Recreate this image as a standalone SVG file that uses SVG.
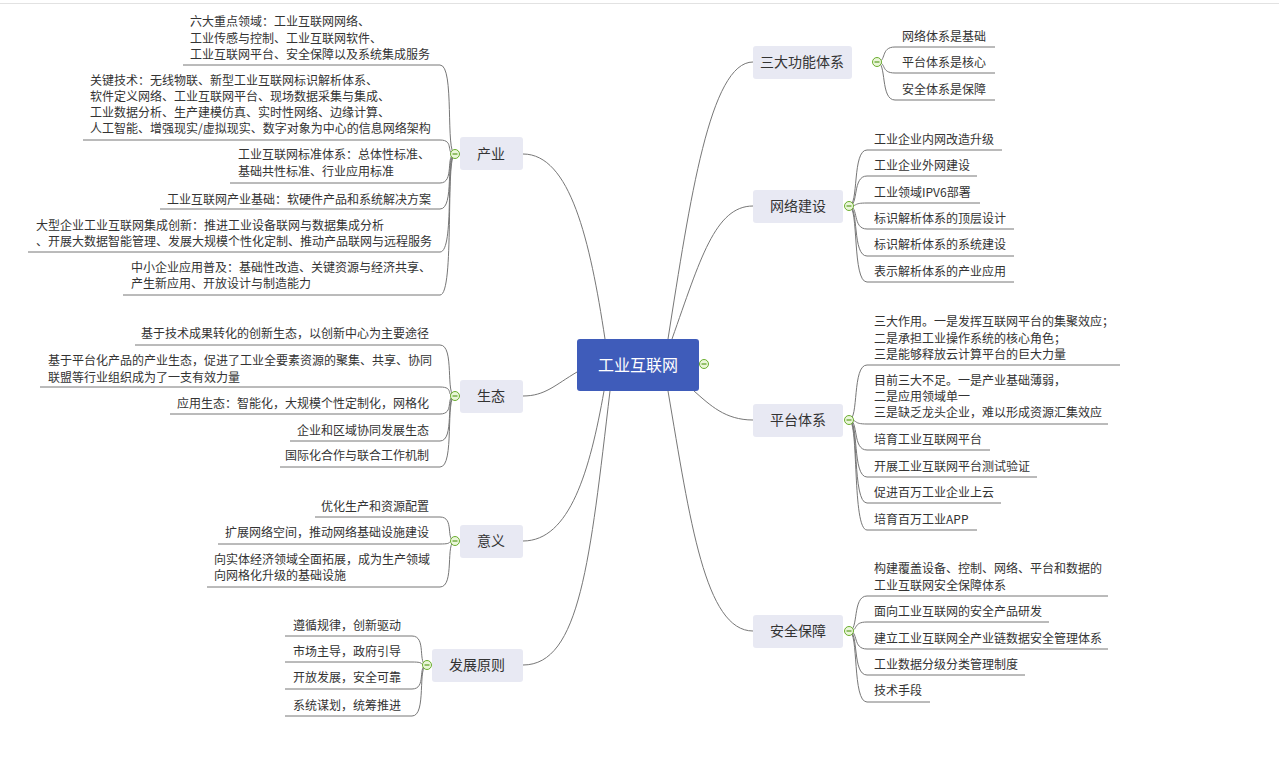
<svg xmlns="http://www.w3.org/2000/svg" width="1279" height="784" viewBox="0 0 1279 784">
<defs>
<style>
.t{font-family:"Noto Sans CJK SC","Liberation Sans",sans-serif;font-size:12px;fill:#333}
.r{text-anchor:end}
.b{font-family:"Noto Sans CJK SC","Liberation Sans",sans-serif;font-size:14px;fill:#333;text-anchor:middle}
.bx{fill:#e8e9f3}
.c{fill:none;stroke:#777;stroke-width:1}
.ic{fill:#eaf6d9;stroke:#6aae2e;stroke-width:1}
.im{stroke:#5a9e22;stroke-width:1.2}
</style>
<g id="ico"><circle class="ic" r="4.5"/><line class="im" x1="-2.5" x2="2.5" y1="0" y2="0"/></g>
</defs>
<rect width="1279" height="784" fill="#fff"/>
<line x1="0" y1="3.5" x2="1279" y2="3.5" stroke="#e2e2e2"/>
<g id="connectors">
<path class="c" d="M605,339 C590,240 570,154 523,154"/>
<path class="c" d="M577,372 C555,385 545,396 523,396"/>
<path class="c" d="M604,391 C590,470 570,541 523,541"/>
<path class="c" d="M610,391 C590,560 580,665 523,665"/>
<path class="c" d="M668,339 C690,200 710,62 753,62"/>
<path class="c" d="M672,339 C700,260 715,206 753,206"/>
<path class="c" d="M694,391 C710,405 725,420 753,420"/>
<path class="c" d="M668,391 C690,520 705,631 753,631"/>
<!-- 产业 -->
<path class="c" d="M455,154 C445,154 455,65 440,65 H183"/>
<path class="c" d="M455,154 C445,154 455,140 440,140 H83"/>
<path class="c" d="M455,154 C445,154 455,183 440,183 H230"/>
<path class="c" d="M455,154 C445,154 455,209 440,209 H160"/>
<path class="c" d="M455,154 C445,154 455,252 440,252 H28"/>
<path class="c" d="M455,154 C445,154 455,295 440,295 H123"/>
<!-- 生态 -->
<path class="c" d="M455,396 C445,396 455,345 440,345 H135"/>
<path class="c" d="M455,396 C445,396 455,387 440,387 H40"/>
<path class="c" d="M455,396 C445,396 455,414 440,414 H170"/>
<path class="c" d="M455,396 C445,396 455,441 440,441 H290"/>
<path class="c" d="M455,396 C445,396 455,467 440,467 H280"/>
<!-- 意义 -->
<path class="c" d="M455,541 C445,541 455,517 440,517 H315"/>
<path class="c" d="M455,541 C445,541 455,544 440,544 H218"/>
<path class="c" d="M455,541 C445,541 455,587 440,587 H207"/>
<!-- 发展原则 -->
<path class="c" d="M427,665 C417,665 427,636 412,636 H285"/>
<path class="c" d="M427,665 C417,665 427,662 412,662 H285"/>
<path class="c" d="M427,665 C417,665 427,689 412,689 H285"/>
<path class="c" d="M427,665 C417,665 427,716 412,716 H285"/>
<!-- 三大功能体系 -->
<path class="c" d="M877,62 C887,62 880,47 895,47 H995"/>
<path class="c" d="M877,62 C887,62 880,73 895,73 H995"/>
<path class="c" d="M877,62 C887,62 880,100 895,100 H995"/>
<!-- 网络建设 -->
<path class="c" d="M849,206 C859,206 852,150 867,150 H1002"/>
<path class="c" d="M849,206 C859,206 852,176 867,176 H977"/>
<path class="c" d="M849,206 C859,206 852,203 867,203 H980"/>
<path class="c" d="M849,206 C859,206 852,229 867,229 H1014"/>
<path class="c" d="M849,206 C859,206 852,256 867,256 H1014"/>
<path class="c" d="M849,206 C859,206 852,282 867,282 H1014"/>
<!-- 平台体系 -->
<path class="c" d="M849,420 C859,420 852,365 867,365 H1120"/>
<path class="c" d="M849,420 C859,420 852,424 867,424 H1108"/>
<path class="c" d="M849,420 C859,420 852,450 867,450 H990"/>
<path class="c" d="M849,420 C859,420 852,477 867,477 H1037"/>
<path class="c" d="M849,420 C859,420 852,503 867,503 H1001"/>
<path class="c" d="M849,420 C859,420 852,530 867,530 H977"/>
<!-- 安全保障 -->
<path class="c" d="M849,631 C859,631 852,596 867,596 H1108"/>
<path class="c" d="M849,631 C859,631 852,622 867,622 H1049"/>
<path class="c" d="M849,631 C859,631 852,649 867,649 H1108"/>
<path class="c" d="M849,631 C859,631 852,675 867,675 H1025"/>
<path class="c" d="M849,631 C859,631 852,702 867,702 H930"/>
</g>
<g id="center">
<rect x="577" y="339" width="122" height="52" rx="3" fill="#3f5cba"/>
<text x="638" y="371" font-family="Noto Sans CJK SC,sans-serif" font-size="16" fill="#fff" text-anchor="middle">工业互联网</text>
<use href="#ico" x="704" y="364"/>
</g>
<g id="n-chanye">
<rect class="bx" x="460" y="137" width="63" height="33" rx="3"/><text class="b" x="491" y="159">产业</text><use href="#ico" x="455" y="154"/>
<text class="t" x="190" y="26">六大重点领域：工业互联网网络、</text>
<text class="t" x="190" y="43">工业传感与控制、工业互联网软件、</text>
<text class="t" x="190" y="59">工业互联网平台、安全保障以及系统集成服务</text>
<text class="t" x="90" y="85">关键技术：无线物联、新型工业互联网标识解析体系、</text>
<text class="t" x="90" y="101">软件定义网络、工业互联网平台、现场数据采集与集成、</text>
<text class="t" x="90" y="117">工业数据分析、生产建模仿真、实时性网络、边缘计算、</text>
<text class="t" x="90" y="133">人工智能、增强现实/虚拟现实、数字对象为中心的信息网络架构</text>
<text class="t" x="238" y="159">工业互联网标准体系：总体性标准、</text>
<text class="t" x="238" y="176">基础共性标准、行业应用标准</text>
<text class="t" x="167" y="204">工业互联网产业基础：软硬件产品和系统解决方案</text>
<text class="t" x="36" y="230">大型企业工业互联网集成创新：推进工业设备联网与数据集成分析</text>
<text class="t" x="36" y="246">、开展大数据智能管理、发展大规模个性化定制、推动产品联网与远程服务</text>
<text class="t" x="131" y="272">中小企业应用普及：基础性改造、关键资源与经济共享、</text>
<text class="t" x="131" y="288">产生新应用、开放设计与制造能力</text>
</g>
<g id="n-shengtai">
<rect class="bx" x="460" y="380" width="63" height="33" rx="3"/><text class="b" x="491" y="401">生态</text><use href="#ico" x="455" y="396"/>
<text class="t r" x="429" y="338">基于技术成果转化的创新生态，以创新中心为主要途径</text>
<text class="t" x="48" y="365">基于平台化产品的产业生态，促进了工业全要素资源的聚集、共享、协同</text>
<text class="t" x="48" y="382">联盟等行业组织成为了一支有效力量</text>
<text class="t r" x="429" y="408">应用生态：智能化，大规模个性定制化，网格化</text>
<text class="t r" x="429" y="435">企业和区域协同发展生态</text>
<text class="t r" x="429" y="460">国际化合作与联合工作机制</text>
</g>
<g id="n-yiyi">
<rect class="bx" x="460" y="525" width="63" height="33" rx="3"/><text class="b" x="491" y="546">意义</text><use href="#ico" x="455" y="541"/>
<text class="t r" x="429" y="511">优化生产和资源配置</text>
<text class="t r" x="429" y="537">扩展网络空间，推动网络基础设施建设</text>
<text class="t" x="214" y="564">向实体经济领域全面拓展，成为生产领域</text>
<text class="t" x="214" y="580">向网格化升级的基础设施</text>
</g>
<g id="n-yuanze">
<rect class="bx" x="432" y="649" width="91" height="33" rx="3"/><text class="b" x="477" y="670">发展原则</text><use href="#ico" x="427" y="665"/>
<text class="t" x="293" y="630">遵循规律，创新驱动</text>
<text class="t" x="293" y="656">市场主导，政府引导</text>
<text class="t" x="293" y="682">开放发展，安全可靠</text>
<text class="t" x="293" y="710">系统谋划，统筹推进</text>
</g>
<g id="n-gongneng">
<rect class="bx" x="753" y="46" width="99" height="33" rx="3"/><text class="b" x="802" y="67">三大功能体系</text><use href="#ico" x="877" y="62"/>
<text class="t" x="902" y="41">网络体系是基础</text>
<text class="t" x="902" y="67">平台体系是核心</text>
<text class="t" x="902" y="94">安全体系是保障</text>
</g>
<g id="n-wangluo">
<rect class="bx" x="753" y="190" width="90" height="33" rx="3"/><text class="b" x="798" y="211">网络建设</text><use href="#ico" x="849" y="206"/>
<text class="t" x="874" y="144">工业企业内网改造升级</text>
<text class="t" x="874" y="170">工业企业外网建设</text>
<text class="t" x="874" y="197">工业领域IPV6部署</text>
<text class="t" x="874" y="223">标识解析体系的顶层设计</text>
<text class="t" x="874" y="249">标识解析体系的系统建设</text>
<text class="t" x="874" y="276">表示解析体系的产业应用</text>
</g>
<g id="n-pingtai">
<rect class="bx" x="753" y="404" width="90" height="33" rx="3"/><text class="b" x="798" y="425">平台体系</text><use href="#ico" x="849" y="420"/>
<text class="t" x="874" y="326">三大作用。一是发挥互联网平台的集聚效应；</text>
<text class="t" x="874" y="343">二是承担工业操作系统的核心角色；</text>
<text class="t" x="874" y="359">三是能够释放云计算平台的巨大力量</text>
<text class="t" x="874" y="385">目前三大不足。一是产业基础薄弱，</text>
<text class="t" x="874" y="401">二是应用领域单一</text>
<text class="t" x="874" y="417">三是缺乏龙头企业，难以形成资源汇集效应</text>
<text class="t" x="874" y="444">培育工业互联网平台</text>
<text class="t" x="874" y="471">开展工业互联网平台测试验证</text>
<text class="t" x="874" y="497">促进百万工业企业上云</text>
<text class="t" x="874" y="524">培育百万工业APP</text>
</g>
<g id="n-anquan">
<rect class="bx" x="753" y="615" width="90" height="33" rx="3"/><text class="b" x="798" y="636">安全保障</text><use href="#ico" x="849" y="631"/>
<text class="t" x="874" y="573">构建覆盖设备、控制、网络、平台和数据的</text>
<text class="t" x="874" y="590">工业互联网安全保障体系</text>
<text class="t" x="874" y="616">面向工业互联网的安全产品研发</text>
<text class="t" x="874" y="643">建立工业互联网全产业链数据安全管理体系</text>
<text class="t" x="874" y="669">工业数据分级分类管理制度</text>
<text class="t" x="874" y="695">技术手段</text>
</g>
</svg>
